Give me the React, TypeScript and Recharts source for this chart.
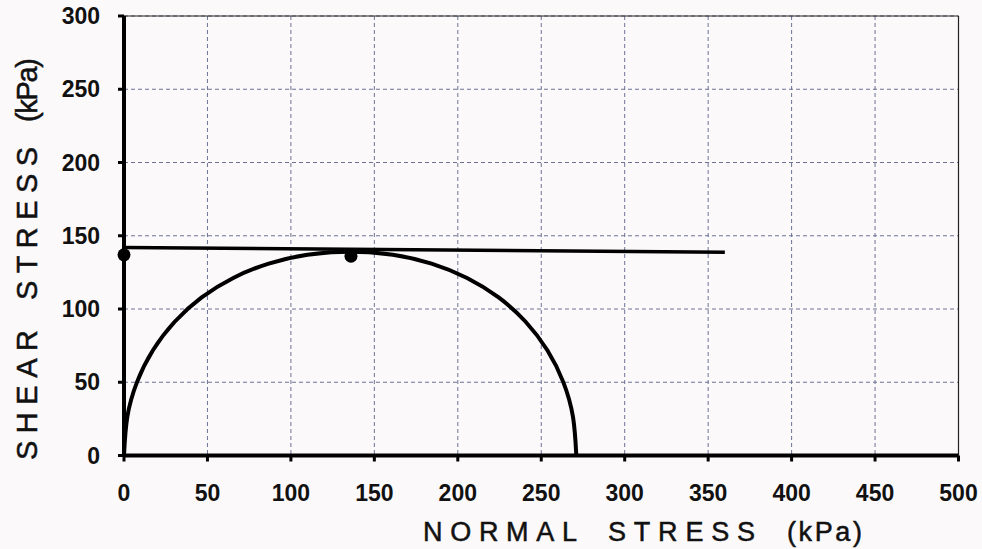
import React from "react";
import {
  ComposedChart,
  Line,
  Scatter,
  XAxis,
  YAxis,
  CartesianGrid,
  ReferenceLine,
} from "recharts";

// Mohr circle
const circleNormal = [0, 1.96, 7.79, 17.33, 30.37, 46.53, 65.46, 86.71, 109.92, 135.5, 161.08, 184.29, 205.54, 224.47, 240.63, 253.67, 263.21, 269.04, 271];
const circleShear = [0, 26.2, 50.1, 71.8, 91.3, 107.9, 121.2, 131.0, 137.0, 139, 137.0, 131.0, 121.2, 107.9, 91.3, 71.8, 50.1, 26.2, 0];

// Failure envelope (nearly horizontal line)
const envelopeNormal = [0, 360];
const envelopeShear = [142, 138.7];

// Plotted points
const pointNormal = [0, 136];
const pointShear = [137, 136];

const xTicks = [0, 50, 100, 150, 200, 250, 300, 350, 400, 450, 500];
const yTicks = [0, 50, 100, 150, 200, 250, 300];

const zip = (xs: number[], ys: number[]) => xs.map((x, i) => ({ x, y: ys[i] }));

const circleData = zip(circleNormal, circleShear);
const envelopeData = zip(envelopeNormal, envelopeShear);
const pointData = zip(pointNormal, pointShear);

const FONT = "'Liberation Sans', Arial, sans-serif";

export default function App() {
  const tickStyle = { fill: "#111", fontSize: 23, fontWeight: 700, fontFamily: FONT };
  return (
    <div
      style={{
        position: "absolute",
        left: 0,
        top: 0,
        width: 982,
        height: 549,
        background: "#fcf9fa",
        overflow: "hidden",
      }}
    >
      <ComposedChart
        width={982}
        height={549}
        margin={{ top: 16, right: 23.5, left: 0, bottom: 0 }}
      >
        <CartesianGrid stroke="#6c7294" strokeDasharray="4 3" strokeWidth={1} />
        <XAxis
          type="number"
          dataKey="x"
          domain={[0, 500]}
          ticks={xTicks}
          interval={0}
          height={93.5}
          axisLine={{ stroke: "#000", strokeWidth: 4 }}
          tickLine={{ stroke: "#000", strokeWidth: 3 }}
          tickSize={6}
          tickMargin={23}
          tick={tickStyle}
          allowDuplicatedCategory={false}
        />
        <YAxis
          type="number"
          dataKey="y"
          domain={[0, 300]}
          ticks={yTicks}
          interval={0}
          width={124}
          axisLine={{ stroke: "#000", strokeWidth: 4 }}
          tickLine={{ stroke: "#000", strokeWidth: 3 }}
          tickSize={6}
          tickMargin={18}
          tick={tickStyle}
        />
        <ReferenceLine y={300} stroke="#222" strokeWidth={1.2} />
        <ReferenceLine x={500} stroke="#222" strokeWidth={1.2} />
        <Line
          data={envelopeData}
          dataKey="y"
          type="linear"
          stroke="#000"
          strokeWidth={3.5}
          dot={false}
          activeDot={false}
          isAnimationActive={false}
        />
        <Line
          data={circleData}
          dataKey="y"
          type="natural"
          stroke="#000"
          strokeWidth={4}
          dot={false}
          activeDot={false}
          isAnimationActive={false}
        />
        <Scatter
          data={pointData}
          dataKey="y"
          fill="#000"
          shape={(p: any) => <circle cx={p.cx} cy={p.cy} r={6.5} fill="#000" />}
          isAnimationActive={false}
        />
      </ComposedChart>
      <svg
        width={982}
        height={549}
        style={{ position: "absolute", left: 0, top: 0, pointerEvents: "none" }}
      >
        <g fontFamily={FONT} fontSize={27} fill="#111" stroke="#111" strokeWidth={0.5}>
          <text x={423} y={541} textLength={154}>NORMAL</text>
          <text x={608} y={541} textLength={147}>STRESS</text>
          <text x={787} y={541} textLength={75}>(kPa)</text>
        </g>
        <g fontFamily={FONT} fontSize={29} fill="#111" stroke="#111" strokeWidth={0.5}>
          <text x={37} y={460} textLength={130} transform="rotate(-90 37 460)">SHEAR</text>
          <text x={37} y={300} textLength={153} transform="rotate(-90 37 300)">STRESS</text>
          <text x={37} y={122} textLength={64} transform="rotate(-90 37 122)">(kPa)</text>
        </g>
      </svg>
    </div>
  );
}
